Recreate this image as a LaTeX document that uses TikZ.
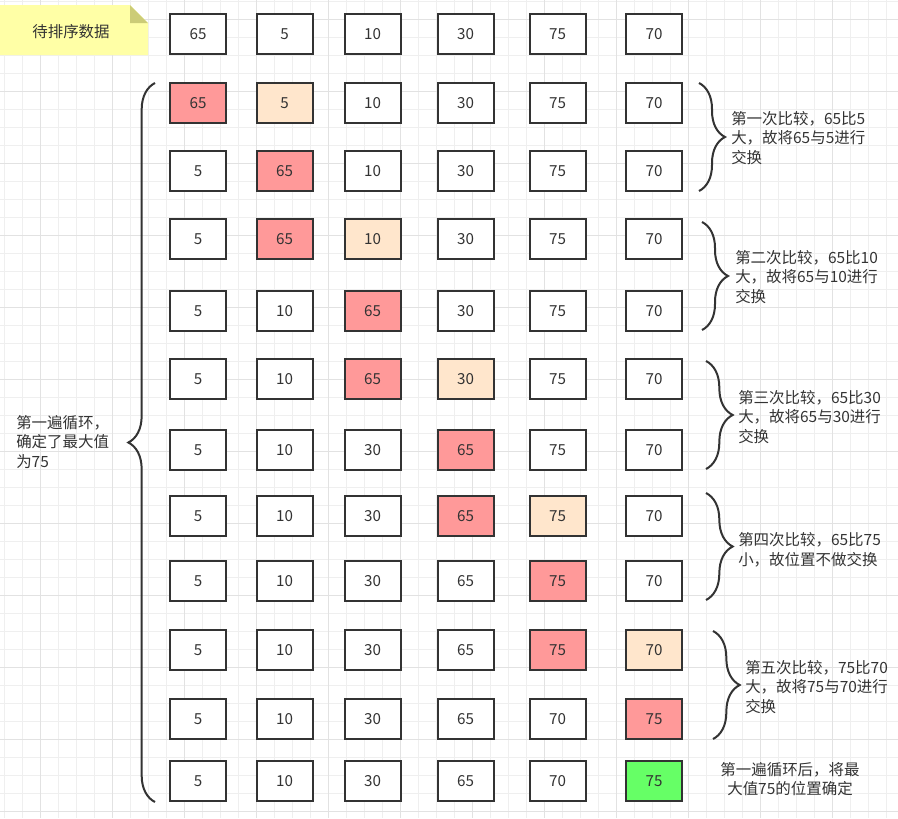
\documentclass[tikz,border=0pt]{standalone}
\usepackage{fontspec}
\setmainfont{Noto Sans CJK SC}
\usetikzlibrary{decorations.pathreplacing}
\definecolor{ink}{HTML}{333333}
\definecolor{hotred}{HTML}{FF9999}
\definecolor{peach}{HTML}{FFE6CC}
\definecolor{donegreen}{HTML}{66FF66}
\definecolor{noteyellow}{HTML}{FFFFA6}
\definecolor{notefold}{HTML}{CCCC77}
\definecolor{gridminor}{HTML}{EFEFEF}
\definecolor{gridmajor}{HTML}{E2E2E2}
\def\colx{{198,284.5,372.5,465.5,557.5,654}}
\tikzset{
	cell/.style={draw=ink, line width=1.5pt, fill=white, minimum width=42pt, minimum height=30pt, inner sep=0pt, text=ink, font=\fontsize{11.4}{13}\selectfont},
	hot/.style={cell, fill=hotred},
	next/.style={cell, fill=peach},
	done/.style={cell, fill=donegreen},
	remark/.style={anchor=west, align=left, inner sep=0pt, text=ink, font=\fontsize{11.6}{14.6}\selectfont},
	curly/.style={draw=ink, line width=1.5pt, decorate, decoration={brace, amplitude=#1}},
	minor/.style={draw=gridminor, line width=0.75pt},
	major/.style={draw=gridmajor, line width=0.75pt}
}

\begin{document}
\begin{tikzpicture}[x=0.75pt, y=-0.75pt]
	\useasboundingbox (0,0) rectangle (898,818);
	
	% ==========================================
	% BACKGROUND GRID
	% ==========================================
	\foreach \gx in {4.3,22.3,...,898} \draw[minor] (\gx,0) -- (\gx,818);
	\foreach \gy in {1.3,19.3,...,818} \draw[minor] (0,\gy) -- (898,\gy);
	\foreach \gx in {40.3,112.3,...,898} \draw[major] (\gx,0) -- (\gx,818);
	\foreach \gy in {19.3,91.3,...,818} \draw[major] (0,\gy) -- (898,\gy);
	
	% ==========================================
	% INPUT DATA
	% ==========================================
	\fill[noteyellow] (0,5) -- (130,5) -- (148,23) -- (148,55) -- (0,55) -- cycle;
	\fill[notefold] (130,5) -- (130,23) -- (148,23) -- cycle;
	\node[remark, anchor=center] (input) at (71,32) {待排序数据};
	\foreach \v/\s [count=\c] in {65/cell,5/cell,10/cell,30/cell,75/cell,70/cell}
		{\pgfmathsetmacro\cx{\colx[\c-1]}
		\node[\s] (r0c\c) at (\cx,34) {\v};}
	
	% ==========================================
	% PASS 1: six comparisons
	% ==========================================
	% --- 65 vs 5 ---
	\foreach \v/\s [count=\c] in {65/hot,5/next,10/cell,30/cell,75/cell,70/cell}
		{\pgfmathsetmacro\cx{\colx[\c-1]}
		\node[\s] (r1c\c) at (\cx,103) {\v};}
	\foreach \v/\s [count=\c] in {5/cell,65/hot,10/cell,30/cell,75/cell,70/cell}
		{\pgfmathsetmacro\cx{\colx[\c-1]}
		\node[\s] (r2c\c) at (\cx,171) {\v};}
	
	% --- 65 vs 10 ---
	\foreach \v/\s [count=\c] in {5/cell,65/hot,10/next,30/cell,75/cell,70/cell}
		{\pgfmathsetmacro\cx{\colx[\c-1]}
		\node[\s] (r3c\c) at (\cx,239) {\v};}
	\foreach \v/\s [count=\c] in {5/cell,10/cell,65/hot,30/cell,75/cell,70/cell}
		{\pgfmathsetmacro\cx{\colx[\c-1]}
		\node[\s] (r4c\c) at (\cx,311) {\v};}
	
	% --- 65 vs 30 ---
	\foreach \v/\s [count=\c] in {5/cell,10/cell,65/hot,30/next,75/cell,70/cell}
		{\pgfmathsetmacro\cx{\colx[\c-1]}
		\node[\s] (r5c\c) at (\cx,379) {\v};}
	\foreach \v/\s [count=\c] in {5/cell,10/cell,30/cell,65/hot,75/cell,70/cell}
		{\pgfmathsetmacro\cx{\colx[\c-1]}
		\node[\s] (r6c\c) at (\cx,450) {\v};}
	
	% --- 65 vs 75 ---
	\foreach \v/\s [count=\c] in {5/cell,10/cell,30/cell,65/hot,75/next,70/cell}
		{\pgfmathsetmacro\cx{\colx[\c-1]}
		\node[\s] (r7c\c) at (\cx,516) {\v};}
	\foreach \v/\s [count=\c] in {5/cell,10/cell,30/cell,65/cell,75/hot,70/cell}
		{\pgfmathsetmacro\cx{\colx[\c-1]}
		\node[\s] (r8c\c) at (\cx,581) {\v};}
	
	% --- 75 vs 70 ---
	\foreach \v/\s [count=\c] in {5/cell,10/cell,30/cell,65/cell,75/hot,70/next}
		{\pgfmathsetmacro\cx{\colx[\c-1]}
		\node[\s] (r9c\c) at (\cx,650) {\v};}
	\foreach \v/\s [count=\c] in {5/cell,10/cell,30/cell,65/cell,70/cell,75/hot}
		{\pgfmathsetmacro\cx{\colx[\c-1]}
		\node[\s] (r10c\c) at (\cx,719) {\v};}
	
	% --- result ---
	\foreach \v/\s [count=\c] in {5/cell,10/cell,30/cell,65/cell,70/cell,75/done}
		{\pgfmathsetmacro\cx{\colx[\c-1]}
		\node[\s] (r11c\c) at (\cx,781) {\v};}
	
	% ==========================================
	% BRACES AND REMARKS
	% ==========================================
	\draw[curly=20pt] (155,802) -- (155,83);
	\node[remark] (loop) at (16,442) {第一遍循环，\\确定了最大值\\为75};
	
	\draw[curly=19.5pt] (699,83) -- (699,191);
	\node[remark] (cmp1) at (731,138) {第一次比较，65比5\\大，故将65与5进行\\交换};
	
	\draw[curly=19.5pt] (702,222) -- (702,330);
	\node[remark] (cmp2) at (735,277) {第二次比较，65比10\\大，故将65与10进行\\交换};
	
	\draw[curly=20pt] (706,361) -- (706,469);
	\node[remark] (cmp3) at (738,417) {第三次比较，65比30\\大，故将65与30进行\\交换};
	
	\draw[curly=20pt] (706,493) -- (706,600);
	\node[remark] (cmp4) at (738,550) {第四次比较，65比75\\小，故位置不做交换};
	
	\draw[curly=20pt] (713,631) -- (713,739);
	\node[remark] (cmp5) at (745,687) {第五次比较，75比70\\大，故将75与70进行\\交换};
	
	\node[remark, anchor=center, align=center] (result) at (790,779) {第一遍循环后，将最\\大值75的位置确定};
	
\end{tikzpicture}
\end{document}
